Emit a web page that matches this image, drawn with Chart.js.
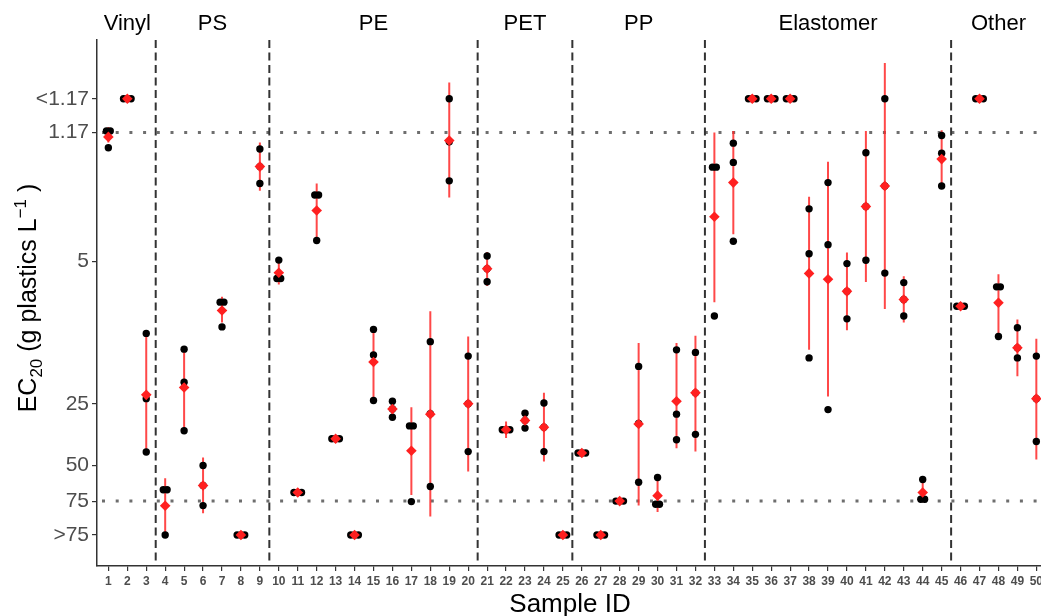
<!DOCTYPE html>
<html>
<head>
<meta charset="utf-8">
<title>EC20 by sample</title>
<script src="https://cdn.jsdelivr.net/npm/chart.js@4.4.1/dist/chart.umd.min.js"></script>
<style>
  html, body { margin: 0; padding: 0; background: #fff; overflow: hidden; }
  #clip { position: relative; width: 1041px; height: 616px; overflow: hidden; }
  #wrap { position: relative; width: 1053px; height: 616px; }
</style>
</head>
<body>
<div id="clip"><div id="wrap"><canvas id="ecChart"></canvas></div></div>
<script>
// values drawn on the "<1.17" and ">75" rows
const LT = 0.8;
const GT = 110;

const sampleIds = [1, 2, 3, 4, 5, 6, 7, 8, 9, 10, 11, 12, 13, 14, 15, 16, 17, 18, 19, 20,
  21, 22, 23, 24, 25, 26, 27, 28, 29, 30, 31, 32, 33, 34, 35, 36, 37, 38, 39, 40,
  41, 42, 43, 44, 45, 46, 47, 48, 49, 50];

const groupNames = ["Vinyl", "PS", "PE", "PET", "PP", "Elastomer", "Other"];
const groupFirst = [1, 4, 10, 21, 26, 33, 46];
const groupLast = [3, 9, 20, 25, 32, 45, 50];

const yTickValues = [LT, 1.17, 5, 25, 50, 75, GT];
const yTickLabels = ["<1.17", "1.17", "5", "25", "50", "75", ">75"];
const refLines = [1.17, 75];

// three replicate EC20 values per sample (g plastics / L)
const rep1 = [1.15, LT, 11.3, 66, 13.5, 50.2, 7.94, GT, 1.41, 4.94,
  68.1, 2.37, 37.1, GT, 10.8, 24.3, 32.1, 12.4, LT, 14.6,
  4.72, 33.5, 27.8, 24.8, GT, 43.6, GT, 75, 16.4, 57.5,
  13.6, 14.0, 1.73, 1.32, LT, LT, LT, 2.77, 2.06, 5.14,
  1.47, LT, 6.37, 58.8, 1.21, 8.31, LT, 6.68, 10.6, 14.6];
const rep2 = [1.15, LT, 23.6, 66, 19.6, 62.9, 7.94, GT, 1.72, 6.08,
  68.1, 2.37, 37.1, GT, 14.4, 26.5, 32.1, 28.0, 1.30, 25.0,
  5.45, 33.5, 30.2, 32.6, GT, 43.6, GT, 75, 31.2, 77.7,
  28.1, 22.1, 1.73, 1.64, LT, LT, LT, 4.60, 4.15, 7.03,
  2.70, 2.14, 7.71, 73.5, 1.48, 8.31, LT, 6.68, 13.3, 23.6];
const rep3 = [1.39, LT, 43.1, GT, 33.9, 78.9, 10.5, GT, 2.08, 6.08,
  68.1, 3.96, 37.1, GT, 24.1, 29.1, 75.4, 63.6, 2.02, 42.9,
  6.31, 33.5, 32.9, 42.9, GT, 43.6, GT, 75, 60.6, 77.7,
  37.5, 35.3, 9.28, 3.99, LT, LT, LT, 14.9, 26.7, 9.59,
  4.95, 5.72, 9.28, 73.5, 2.14, 8.31, LT, 11.7, 14.9, 38.3];

// mean and error bar ends (null = no bar)
const meanEC = [1.23, LT, 22.6, 79, 20.8, 62.9, 8.72, GT, 1.72, 5.70,
  68.1, 2.82, 37.1, GT, 15.6, 26.5, 42.5, 28.1, 1.28, 25.0,
  5.45, 33.5, 30.2, 32.6, GT, 43.6, GT, 75, 31.4, 70.5,
  24.3, 22.1, 3.03, 2.06, LT, LT, LT, 5.74, 6.13, 7.03,
  2.70, 2.14, 7.71, 68.1, 1.58, 8.31, LT, 8.0, 13.3, 23.6];
const errLow = [1.10, null, 11.3, 58, 13.5, 45.9, 7.47, null, 1.31, 4.9,
  null, 2.08, null, null, 10.4, 23.8, 26.0, 8.8, 0.665, 11.7,
  4.51, 30.5, 27.5, 22.1, null, null, null, null, 12.6, 57,
  12.6, 11.6, 1.17, 1.15, null, null, null, 2.42, 1.63, 4.53,
  1.15, 0.534, 5.92, 57, 1.14, null, null, 5.80, 9.66, 12.0];
const errHigh = [1.31, null, 43.1, GT, 33.9, 86.1, 10.0, null, 2.26, 6.5,
  null, 3.96, null, null, 24.1, 29.9, 70.0, 89.3, 2.44, 53.7,
  6.62, 36.8, 33.2, 48.0, null, null, null, null, 78.9, 84.7,
  41.3, 42.9, 7.95, 3.69, null, null, null, 13.6, 23.0, 10.9,
  6.32, 8.59, 10.0, 75.9, 2.14, null, null, 11.7, 18.3, 46.9];

const FONT = '"Liberation Sans", Arial, Helvetica, sans-serif';
Chart.defaults.font.family = FONT;

// replicate points, equal values placed side by side
const repPoints = [];
sampleIds.forEach((id, i) => {
  const vals = [rep1[i], rep2[i], rep3[i]];
  const seen = {};
  vals.forEach(v => { seen[v] = (seen[v] || 0) + 1; });
  Object.keys(seen).forEach(k => {
    const n = seen[k];
    for (let j = 0; j < n; j++) {
      repPoints.push({ x: id + (j - (n - 1) / 2) * 0.2, y: Number(k) });
    }
  });
});

const meanPoints = sampleIds.map((id, i) => ({ x: id, y: meanEC[i] }));

const errPoints = [];
sampleIds.forEach((id, i) => {
  if (errLow[i] == null) return;
  errPoints.push({ x: id, y: errLow[i] });
  errPoints.push({ x: id, y: errHigh[i] });
  errPoints.push({ x: id, y: null });
});

function pinScale(w, h) {
  return function (s) {
    if (w != null) s.width = w;
    if (h != null) s.height = h;
    s.paddingLeft = 0; s.paddingRight = 0; s.paddingTop = 0; s.paddingBottom = 0;
  };
}

function drawYTitle(ctx, bx, cy) {
  const big = '25px ' + FONT;
  const small = '17px ' + FONT;
  const parts = [
    { t: "EC", f: big, dy: 0 },
    { t: "20", f: small, dy: 6 },
    { t: " (g plastics L", f: big, dy: 0 },
    { t: "\u22121", f: small, dy: -10 },
    { t: " )", f: big, dy: 0 }
  ];
  let total = 0;
  parts.forEach(p => { ctx.font = p.f; p.w = ctx.measureText(p.t).width; total += p.w; });
  ctx.save();
  ctx.translate(bx, cy);
  ctx.rotate(-Math.PI / 2);
  ctx.fillStyle = "#000";
  ctx.textBaseline = "alphabetic";
  ctx.textAlign = "left";
  let x = -total / 2;
  parts.forEach(p => {
    ctx.font = p.f;
    ctx.fillText(p.t, x, p.dy);
    x += p.w;
  });
  ctx.restore();
}

const overlay = {
  id: "overlay",
  beforeDatasetsDraw(chart) {
    const { ctx, chartArea: a, scales: { x, y } } = chart;
    ctx.save();
    // dotted lines at the test limits
    ctx.strokeStyle = "#6e6e6e";
    ctx.lineWidth = 3;
    ctx.lineCap = "butt";
    ctx.setLineDash([3, 10.7]);
    refLines.forEach(v => {
      const py = y.getPixelForValue(v);
      ctx.beginPath();
      ctx.moveTo(a.left + 5, py);
      ctx.lineTo(a.right, py);
      ctx.stroke();
    });
    // dashed separators between plastic types
    ctx.strokeStyle = "#333";
    ctx.lineWidth = 2;
    ctx.setLineDash([8, 4.5]);
    groupFirst.slice(1).forEach(s => {
      const px = x.getPixelForValue(s - 0.5);
      ctx.beginPath();
      ctx.moveTo(px, a.top);
      ctx.lineTo(px, a.bottom);
      ctx.stroke();
    });
    ctx.restore();
  },
  afterDraw(chart) {
    const { ctx, scales: { x } } = chart;
    ctx.save();
    ctx.fillStyle = "#000";
    ctx.textAlign = "center";
    ctx.textBaseline = "alphabetic";
    ctx.font = "22px " + FONT;
    groupNames.forEach((g, i) => {
      const px = x.getPixelForValue((groupFirst[i] + groupLast[i]) / 2);
      ctx.fillText(g, px, 30);
    });
    ctx.font = "26px " + FONT;
    ctx.fillText("Sample ID", 570, 612);
    ctx.restore();
    drawYTitle(ctx, 36, 298);
  }
};

new Chart(document.getElementById("ecChart"), {
  type: "scatter",
  data: {
    datasets: [
      {
        label: "Mean",
        data: meanPoints,
        pointStyle: "rectRot",
        pointRadius: 5.3,
        pointBackgroundColor: "#ff2020",
        pointBorderWidth: 0,
        showLine: false
      },
      {
        label: "Replicates",
        data: repPoints,
        pointRadius: 3.7,
        pointBackgroundColor: "#000",
        pointBorderWidth: 0,
        showLine: false
      },
      {
        label: "Error",
        data: errPoints,
        showLine: true,
        spanGaps: false,
        pointRadius: 0,
        borderColor: "rgba(255,40,40,0.85)",
        borderWidth: 2,
        borderCapStyle: "butt"
      }
    ]
  },
  options: {
    responsive: true,
    maintainAspectRatio: false,
    animation: false,
    layout: { padding: { top: 40, right: 0, bottom: 0, left: 0 } },
    plugins: {
      legend: { display: false },
      tooltip: { enabled: false }
    },
    scales: {
      x: {
        type: "linear",
        min: 0.4,
        max: 50.6,
        afterBuildTicks: s => { s.ticks = sampleIds.map(v => ({ value: v })); },
        afterFit: pinScale(null, 50),
        grid: { drawOnChartArea: false, drawTicks: true, tickLength: 5, color: "#333", lineWidth: 1.2 },
        border: { display: true, color: "#333", width: 1.5 },
        ticks: {
          autoSkip: false,
          maxRotation: 0,
          padding: 3,
          color: "#4d4d4d",
          font: { size: 12, weight: "bold" },
          callback: v => String(v)
        }
      },
      y: {
        type: "logarithmic",
        reverse: true,
        min: 0.412,
        max: 156,
        afterBuildTicks: s => { s.ticks = yTickValues.map(v => ({ value: v })); },
        afterFit: pinScale(97, null),
        grid: { drawOnChartArea: false, drawTicks: true, tickLength: 5, color: "#333", lineWidth: 1.2 },
        border: { display: true, color: "#333", width: 1.5 },
        ticks: {
          autoSkip: false,
          padding: 3,
          color: "#4d4d4d",
          font: { size: 21 },
          callback: (v, i) => yTickLabels[i]
        }
      }
    }
  },
  plugins: [overlay]
});
</script>
</body>
</html>
